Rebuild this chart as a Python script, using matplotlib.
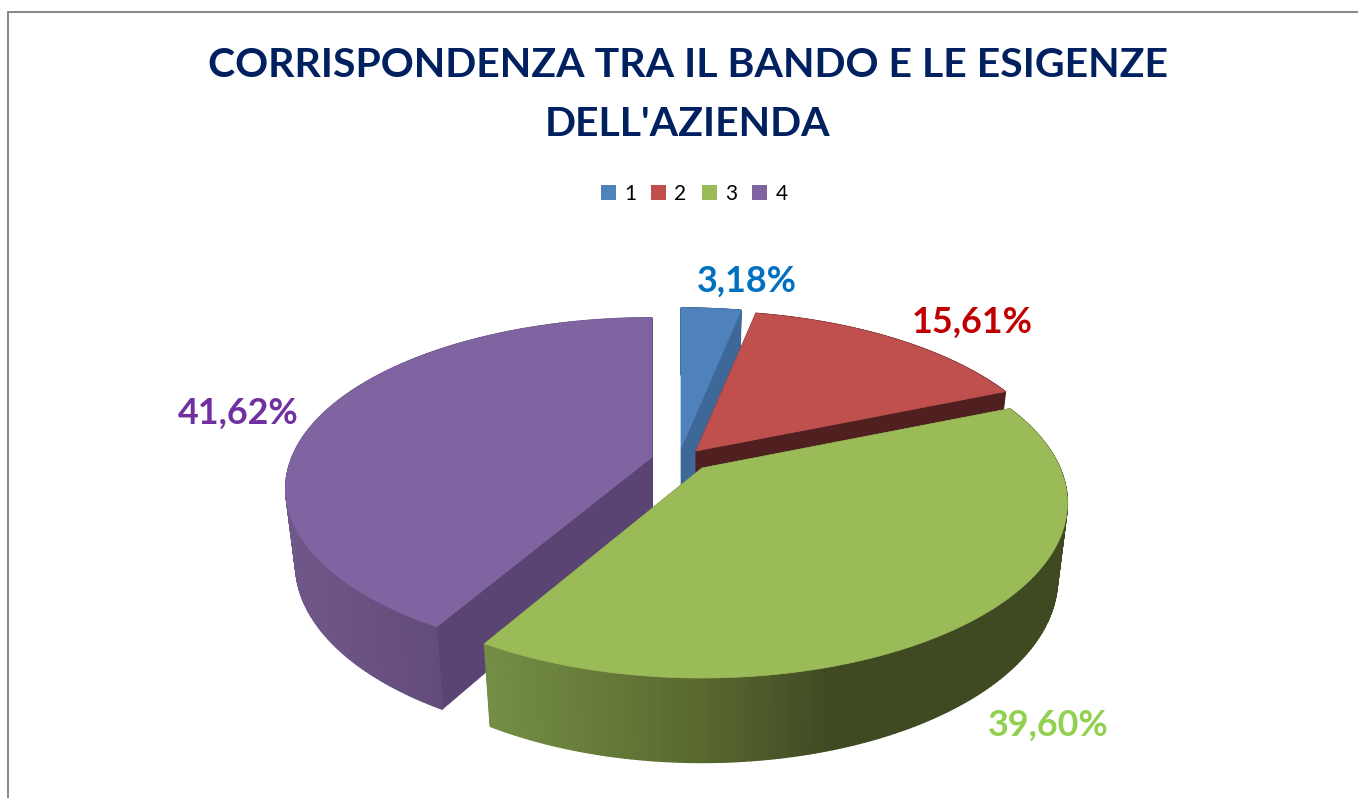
import matplotlib
matplotlib.use('Agg')
import matplotlib.pyplot as plt
from matplotlib.collections import PolyCollection
from matplotlib.colors import to_rgb
from matplotlib.patches import Patch, Polygon
import numpy as np

plt.rcParams['font.family'] = ['Lato', 'DejaVu Sans']

# data
title = "CORRISPONDENZA TRA IL BANDO E LE ESIGENZE\nDELL'AZIENDA"
categories = ['1', '2', '3', '4']
values = [3.18, 15.61, 39.60, 41.62]
value_labels = ['3,18%', '15,61%', '39,60%', '41,62%']

# look of the slices
top_colors = ['#4f81bd', '#c0504d', '#9bbb59', '#8064a2']
cut_colors = ['#3e6897', '#501f1f', '#3f4a22', '#5a4473']
label_colors = ['#0070c0', '#c00000', '#92d050', '#7030a0']
label_pos = [(747, 281), (972, 322), (1048, 725), (238, 413)]
draw_order = [0, 1, 3, 2]

# side shading follows the screen x
side_x = [[600, 800], [700, 1000], [490, 700, 830, 1070], [285, 440]]
side_cols = [['#3e6897', '#3e6897'], ['#501f1f', '#501f1f'],
             ['#748d44', '#59692f', '#3f4a22', '#3f4a22'], ['#705789', '#624c7a']]

# perspective of the pie, each exploded slice sits a bit differently
apex = [(681, 448), (696, 451), (702, 468), (652, 457)]
rx = [362, 360, 358, 360]
ry = [168, 168, 168, 165]
persp = [0.2, 0.2, 0.2, 0.185]
DEPTH, BOT_X, BOT_Y = 74, 0.973, 1.05


def top_edge(theta, i):
    p = 1 / (1 + persp[i] * np.cos(theta))
    return apex[i][0] + rx[i] * np.sin(theta) * p, apex[i][1] - ry[i] * np.cos(theta) * p


def bottom_edge(theta, i):
    x, y = top_edge(theta, i)
    return apex[i][0] + BOT_X * (x - apex[i][0]), apex[i][1] + DEPTH + BOT_Y * (y - apex[i][1])


fig = plt.figure(figsize=(13.58, 7.98), dpi=100)
ax = fig.add_axes([0, 0, 1, 1])
ax.set_xlim(0, 1358)
ax.set_ylim(798, 0)
ax.axis('off')

# chart frame, only top and left are in the crop
ax.plot([1358, 8, 8], [12, 12, 798], color='#868686', lw=1.4, solid_joinstyle='miter')

ends = np.cumsum(values) / np.sum(values) * 2 * np.pi
starts = np.r_[0, ends[:-1]]

z = 2
for i in draw_order:
    a = apex[i]
    theta = np.linspace(starts[i], ends[i], 180)
    tx, ty = top_edge(theta, i)
    bx, by = bottom_edge(theta, i)

    # the two cut faces go under the wall
    ab = (a[0], a[1] + DEPTH)
    for k in [0, -1]:
        ax.add_patch(Polygon([a, (tx[k], ty[k]), (bx[k], by[k]), ab], closed=True, fc=cut_colors[i],
                             ec=cut_colors[i], lw=0.5, zorder=z))

    # outer wall in thin strips so it can carry the gradient
    strips = []
    cols = []
    rgb = np.array([to_rgb(c) for c in side_cols[i]])
    for j in range(len(theta) - 1):
        strips.append([(tx[j], ty[j]), (tx[j+1], ty[j+1]), (bx[j+1], by[j+1]), (bx[j], by[j])])
        mid = (tx[j] + tx[j+1]) / 2
        cols.append([np.interp(mid, side_x[i], rgb[:, c]) for c in range(3)])
    ax.add_collection(PolyCollection(strips, facecolors=cols, edgecolors=cols, linewidths=1.0, zorder=z + 1))

    ax.add_patch(Polygon(np.r_[[a], np.c_[tx, ty]], closed=True, fc=top_colors[i], ec=top_colors[i],
                         lw=0.5, zorder=z + 2))
    z += 3

ax.text(688, 95, title, ha='center', va='center', fontsize=29.5, fontweight='bold', color='#002060',
        linespacing=1.72)

for lab, pos, col in zip(value_labels, label_pos, label_colors):
    ax.text(pos[0], pos[1], lab, ha='center', va='center', fontsize=25.8, fontweight='bold', color=col, zorder=50)

handles = [Patch(fc=c, ec='none') for c in top_colors]
ax.legend(handles, categories, ncol=4, loc='center', bbox_to_anchor=(694, 194), bbox_transform=ax.transData,
          frameon=False, fontsize=15, handlelength=0.72, handleheight=0.72, handletextpad=0.4, columnspacing=0.72,
          borderpad=0, labelcolor='black')

fig.savefig('out.png', dpi=100)
